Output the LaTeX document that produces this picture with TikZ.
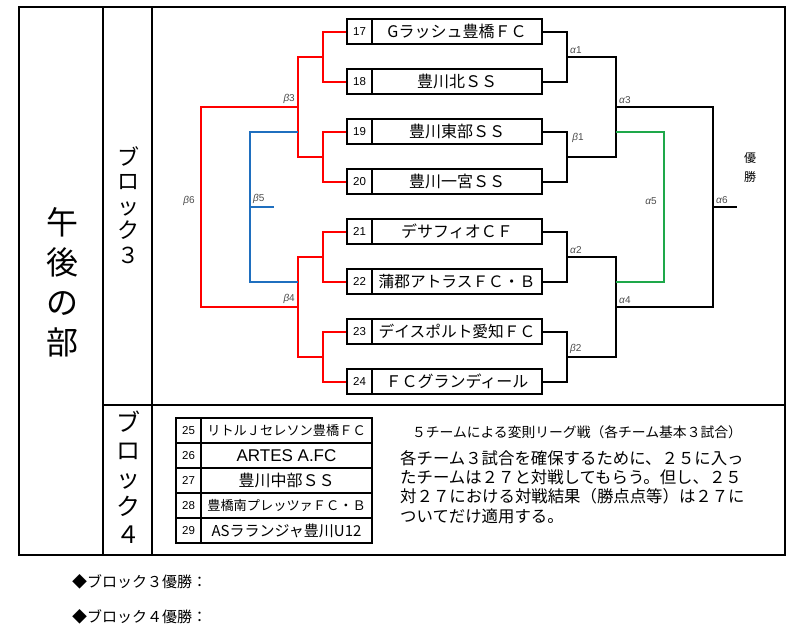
\documentclass[tikz,border=0pt]{standalone}
\usepackage{fontspec}
\setmainfont{Noto Sans CJK JP}
\newfontfamily\latin{Liberation Sans}
\tikzset{
  frame/.style={line width=2pt},
  numbox/.style={draw, line width=2pt, minimum width=25pt, minimum height=25pt, inner sep=0pt, font=\latin\fontsize{11.5}{12}\selectfont},
  namebox/.style={draw, line width=2pt, minimum width=170pt, minimum height=25pt, inner sep=0pt, font=\fontsize{16}{16}\selectfont},
  namebox4/.style={draw, line width=2pt, minimum width=171pt, minimum height=25pt, inner sep=0pt},
  blk/.style={line width=2pt, black},
  redl/.style={line width=2pt, red},
  bluel/.style={line width=2pt, blue4},
  grnl/.style={line width=2pt, green4},
  lbl/.style={font=\latin\fontsize{10}{10}\selectfont, text=black!70, inner sep=1pt},
}
\definecolor{blue4}{HTML}{1F6FBF}
\definecolor{green4}{HTML}{1EA84A}
\newcommand{\al}{\textit{α}}
\newcommand{\be}{\textit{β}}
\begin{document}
\begin{tikzpicture}[x=1pt,y=-1pt]
\useasboundingbox (0,0) rectangle (800,637);
% frame
\draw[frame] (19,7) rectangle (785,555);
\draw[frame] (103,7) -- (103,555);
\draw[frame] (152,7) -- (152,555);
\draw[frame] (103,405) -- (785,405);
% side titles
\node[align=center, font=\fontsize{32}{40}\selectfont, inner sep=0pt] (gogo) at (62,282) {午\\後\\の\\部};
\node[align=center, font=\fontsize{22}{24.5}\selectfont, inner sep=0pt] (blk3) at (128,205) {ブ\\ロ\\ッ\\ク\\３};
\node[align=center, font=\fontsize{24}{28}\selectfont, inner sep=0pt] (blk4) at (128,477) {ブ\\ロ\\ッ\\ク\\４};
% block 3 teams
\foreach \n/\y in {17/31.5,18/81.5,19/131.5,20/181.5,21/231.5,22/281.5,23/331.5,24/381.5}{
  \node[numbox] (n\n) at (359.5,\y) {\n};
}
\node[namebox] (t17) at (457,31.5) {Gラッシュ豊橋ＦＣ};
\node[namebox] (t18) at (457,81.5) {豊川北ＳＳ};
\node[namebox] (t19) at (457,131.5) {豊川東部ＳＳ};
\node[namebox] (t20) at (457,181.5) {豊川一宮ＳＳ};
\node[namebox] (t21) at (457,231.5) {デサフィオＣＦ};
\node[namebox, font=\fontsize{15.7}{16}\selectfont] (t22) at (457,281.5) {蒲郡アトラスＦＣ・Ｂ};
\node[namebox, font=\fontsize{15.7}{16}\selectfont] (t23) at (457,331.5) {デイスポルト愛知ＦＣ};
\node[namebox] (t24) at (457,381.5) {ＦＣグランディール};
% coordinates
\coordinate (jL1) at (323,56.5);
\coordinate (jL2) at (323,156.5);
\coordinate (jL3) at (323,256.5);
\coordinate (jL4) at (323,356.5);
\coordinate (b3) at (298,106.5);
\coordinate (b4) at (298,306.5);
\coordinate (b6) at (201,206.5);
\coordinate (c5a) at (298,131.5);
\coordinate (c5b) at (298,281.5);
\coordinate (b5) at (250,206.5);
\coordinate (b5e) at (274,206.5);
\coordinate (jR1) at (567,56.5);
\coordinate (jR2) at (567,156.5);
\coordinate (jR3) at (567,256.5);
\coordinate (jR4) at (567,356.5);
\coordinate (a3) at (616,106.5);
\coordinate (a4) at (616,306.5);
\coordinate (a6) at (713,206.5);
\coordinate (a6e) at (737,206.5);
\coordinate (g1) at (616,131.5);
\coordinate (g2) at (616,281.5);
\coordinate (a5) at (664,206.5);
% left brackets
\draw[redl] (n17.west) -| (jL1) |- (n18.west);
\draw[redl] (n19.west) -| (jL2) |- (n20.west);
\draw[redl] (n21.west) -| (jL3) |- (n22.west);
\draw[redl] (n23.west) -| (jL4) |- (n24.west);
\draw[redl] (jL1) -| (b3) |- (jL2);
\draw[redl] (jL3) -| (b4) |- (jL4);
\draw[redl] (b3) -| (b6) |- (b4);
\draw[bluel] (c5a) -| (b5) |- (c5b);
\draw[bluel] (b5) -- (b5e);
% right brackets
\draw[blk] (t17.east) -| (jR1) |- (t18.east);
\draw[blk] (t19.east) -| (jR2) |- (t20.east);
\draw[blk] (t21.east) -| (jR3) |- (t22.east);
\draw[blk] (t23.east) -| (jR4) |- (t24.east);
\draw[blk] (jR1) -| (a3) |- (jR2);
\draw[blk] (jR3) -| (a4) |- (jR4);
\draw[blk] (a3) -| (a6) |- (a4);
\draw[blk] (a6) -- (a6e);
\draw[grnl] (g1) -| (a5) |- (g2);
% labels
\node[lbl, anchor=south west] (la1) at (569,55) {\al1};
\node[lbl] (lb1) at (578,138) {\be1};
\node[lbl, anchor=south west] (la2) at (569,255) {\al2};
\node[lbl, anchor=south west] (lb2) at (569,355) {\be2};
\node[lbl, anchor=south west] (la3) at (618,105) {\al3};
\node[lbl, anchor=south west] (la4) at (618,305) {\al4};
\node[lbl] (la5) at (651,201) {\al5};
\node[lbl, anchor=south west] (la6) at (715,205) {\al6};
\node[lbl, anchor=south east] (lb3) at (296,105) {\be3};
\node[lbl, anchor=south east] (lb4) at (296,305) {\be4};
\node[lbl, anchor=south west] (lb5) at (252,205) {\be5};
\node[lbl] (lb6) at (189,201) {\be6};
\node[align=center, font=\fontsize{12}{19}\selectfont, inner sep=0pt] (yusho) at (750,167) {優\\勝};
% block 4 table
\foreach \n/\y in {25/430.5,26/455.5,27/480.5,28/505.5,29/530.5}{
  \node[numbox] (n\n) at (188.5,\y) {\n};
}
\node[namebox4, font=\fontsize{13.2}{14}\selectfont] (t25) at (286.5,430.5) {リトルＪセレソン豊橋ＦＣ};
\node[namebox4, font=\latin\fontsize{17}{17}\selectfont] (t26) at (286.5,455.5) {ARTES A.FC};
\node[namebox4, font=\fontsize{16}{16}\selectfont] (t27) at (286.5,480.5) {豊川中部ＳＳ};
\node[namebox4, font=\fontsize{13.2}{14}\selectfont] (t28) at (286.5,505.5) {豊橋南プレッツァＦＣ・Ｂ};
\node[namebox4, font=\fontsize{15}{15}\selectfont] (t29) at (286.5,530.5) {ASラランジャ豊川U12};
% block 4 notes
\node[font=\fontsize{13.8}{14}\selectfont, inner sep=0pt] (title4) at (577,432) {５チームによる変則リーグ戦（各チーム基本３試合）};
\node[anchor=north west, align=left, font=\fontsize{16.4}{19.3}\selectfont, inner sep=0pt] (note4) at (400,450) {各チーム３試合を確保するために、２５に入っ\\たチームは２７と対戦してもらう。但し、２５\\対２７における対戦結果（勝点点等）は２７に\\ついてだけ適用する。};
% bottom
\node[anchor=west, font=\fontsize{15}{15}\selectfont, inner sep=0pt] (win3) at (72,582) {◆ブロック３優勝：};
\node[anchor=west, font=\fontsize{15}{15}\selectfont, inner sep=0pt] (win4) at (72,617) {◆ブロック４優勝：};
\end{tikzpicture}
\end{document}
